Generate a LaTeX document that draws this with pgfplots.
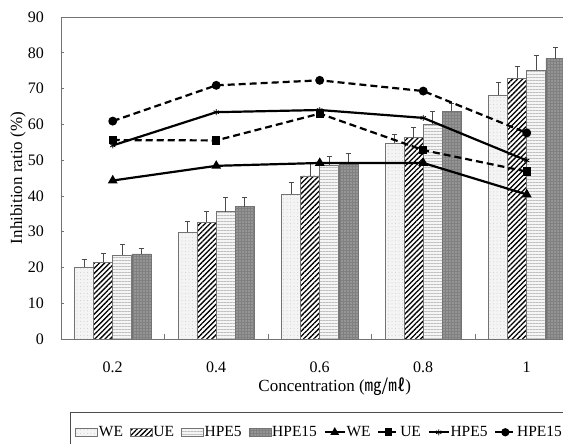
\documentclass[border=0pt]{standalone}
\usepackage{pgfplots}
\pgfplotsset{compat=1.18}
\usepackage{fontspec}
\setmainfont{Liberation Serif}
\newfontfamily\cjk{Noto Sans CJK KR}
\usetikzlibrary{patterns,patterns.meta}
\definecolor{axgray}{gray}{0.45}
\definecolor{darkbar}{gray}{0.50}
\pgfplotsset{
  barleg/.style={legend image code/.code={\draw[##1] (0pt,-4pt) rectangle (22pt,4pt);}},
  lineleg/.style={legend image code/.code={\draw[mark repeat=2,mark phase=2,##1,line width=1.6pt] plot coordinates {(0pt,0pt)(10pt,0pt)(20pt,0pt)};}},
  mybar/.style={ybar, bar width=19pt, bar shift=0pt, draw=axgray, line width=0.5pt, barleg,
    error bars/y dir=plus, error bars/y explicit,
    error bars/error bar style={draw=gray!60!black, line width=0.6pt},
    error bars/error mark options={rotate=90, mark size=2.5pt, draw=gray!60!black, line width=0.6pt}},
}
\begin{document}
\begin{tikzpicture}
\path[use as bounding box] (-61pt,-105pt) rectangle (502pt,339pt);
\begin{axis}[
  at={(0pt,0pt)}, anchor=south west, scale only axis,
  width=517.5pt, height=322pt,
  xmin=-0.5, xmax=4.5, ymin=0, ymax=90,
  xtick={0,1,2,3,4}, xticklabels={0.2,0.4,0.6,0.8,1},
  xtick style={draw=none},
  extra x ticks={0.5,1.5,2.5,3.5}, extra x tick labels={},
  extra x tick style={xtick style={draw=axgray, line width=0.6pt}, major tick length=5pt},
  ytick={0,10,...,90},
  ytick style={draw=axgray, line width=0.6pt},
  major tick length=3pt,
  tick align=inside, xtick pos=left, ytick pos=left,
  axis line style={draw=axgray, line width=0.8pt},
  tick label style={font=\fontsize{16}{19}\selectfont},
  /pgf/number format/assume math mode=true,
  yticklabel style={anchor=east, inner sep=0pt, xshift=-17pt},
  xticklabel style={anchor=base, inner sep=0pt, yshift=-34pt},
  xlabel={Concentration ({\cjk ㎎/㎖})},
  xlabel style={at={(axis description cs:0.529,-0.1646)}, anchor=base, inner sep=0pt, font=\fontsize{17}{20}\selectfont},
  ylabel={Inhibition ratio (\%)},
  ylabel style={at={(axis description cs:-0.083,0.5)}, anchor=center, inner sep=0pt, font=\fontsize{17}{20}\selectfont},
  legend columns=8,
  legend style={at={(axis description cs:0.0174,-0.2267)}, anchor=north west,
    draw=gray!60!black, line width=0.8pt, font=\fontsize{15.5}{18}\selectfont,
    inner xsep=5pt, inner ysep=13pt,
    nodes={inner sep=1pt},
    /tikz/every even column/.append style={column sep=6pt}},
  legend cell align=left,
]
% bars
\addplot[mybar, fill=gray!9,
  postaction={pattern={Dots[distance=3.5pt,radius=0.5pt]}, pattern color=gray!40}]
coordinates {(-0.2754,20.0)+-(0,2.4) (0.7246,29.9)+-(0,3.1) (1.7246,40.4)+-(0,3.3) (2.7246,54.7)+-(0,2.6) (3.7246,68.2)+-(0,3.5)};
\addlegendentry{WE}
\addplot[mybar, fill=white,
  postaction={pattern={Lines[angle=45,distance=3.6pt,line width=1.3pt]}, pattern color=black}]
coordinates {(-0.0918,21.4)+-(0,2.6) (0.9082,32.6)+-(0,3.1) (1.9082,45.6)+-(0,3.6) (2.9082,56.3)+-(0,3.0) (3.9082,72.9)+-(0,3.2)};
\addlegendentry{UE}
\addplot[mybar, fill=gray!8,
  postaction={pattern={Lines[angle=0,distance=3pt,line width=1pt]}, pattern color=gray!50}]
coordinates {(0.0918,23.4)+-(0,3.0) (1.0918,35.6)+-(0,4.0) (2.0918,48.6)+-(0,2.5) (3.0918,60.0)+-(0,3.7) (4.0918,75.1)+-(0,4.1)};
\addlegendentry{HPE5}
\addplot[mybar, fill=darkbar,
  postaction={pattern={Dots[distance=3pt,radius=0.55pt]}, pattern color=gray!25}]
coordinates {(0.2754,23.8)+-(0,1.5) (1.2754,37.0)+-(0,2.6) (2.2754,48.8)+-(0,3.1) (3.2754,63.7)+-(0,2.2) (4.2754,78.4)+-(0,3.0)};
\addlegendentry{HPE15}
% lines
\addplot[black, line width=2.2pt, mark=triangle*, mark size=3.5pt, mark options={solid}, lineleg]
coordinates {(0,44.3) (1,48.4) (2,49.2) (3,49.2) (4,40.4)};
\addlegendentry{WE}
\addplot[black, line width=2.2pt, dash pattern=on 7pt off 4pt, mark=square*, mark size=3pt, mark options={solid}, lineleg]
coordinates {(0,55.6) (1,55.5) (2,63.0) (3,52.8) (4,46.8)};
\addlegendentry{UE}
\addplot[black, line width=2.2pt, mark=asterisk, mark size=3pt, mark options={solid, line width=0.8pt}, lineleg]
coordinates {(0,54.1) (1,63.4) (2,64.0) (3,61.8) (4,49.9)};
\addlegendentry{HPE5}
\addplot[black, line width=2.2pt, dash pattern=on 7pt off 4pt, mark=*, mark size=3.3pt, mark options={solid}, lineleg]
coordinates {(0,60.9) (1,70.9) (2,72.3) (3,69.3) (4,57.6)};
\addlegendentry{HPE15}
\end{axis}
\end{tikzpicture}
\end{document}
